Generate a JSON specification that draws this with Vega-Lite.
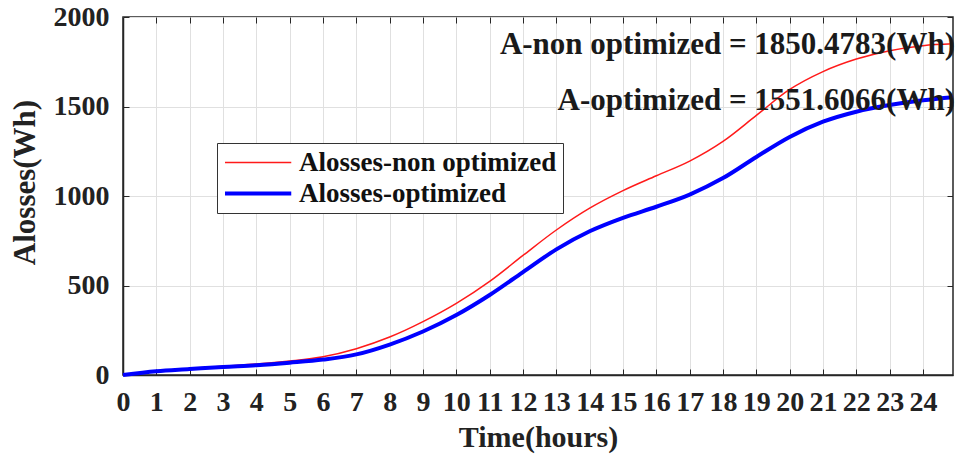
{
  "$schema": "https://vega.github.io/schema/vega-lite/v6.json",
  "width": 830,
  "height": 358,
  "autosize": {"type": "none"},
  "padding": {"left": 123, "top": 17, "right": 5, "bottom": 82},
  "background": "white",
  "config": {
    "view": {"stroke": "#262626", "strokeWidth": 1.5},
    "font": "Liberation Serif",
    "legend": {
      "orient": "none",
      "legendX": 94,
      "legendY": 126,
      "title": null,
      "symbolType": "M-1,0H4.3",
      "symbolSize": 625,
      "labelFont": "Liberation Serif",
      "labelFontSize": 27,
      "labelFontWeight": "bold",
      "labelColor": "#111111",
      "labelLimit": 0,
      "labelOffset": 47,
      "padding": 6,
      "rowPadding": 3,
      "strokeColor": "#333333",
      "fillColor": "white"
    }
  },
  "data": {
    "values": [
      {"t": 0, "v": 0, "series": "Alosses-non optimized"},
      {"t": 1, "v": 23, "series": "Alosses-non optimized"},
      {"t": 2, "v": 36, "series": "Alosses-non optimized"},
      {"t": 3, "v": 49, "series": "Alosses-non optimized"},
      {"t": 4, "v": 61, "series": "Alosses-non optimized"},
      {"t": 5, "v": 78, "series": "Alosses-non optimized"},
      {"t": 6, "v": 102, "series": "Alosses-non optimized"},
      {"t": 7, "v": 147, "series": "Alosses-non optimized"},
      {"t": 8, "v": 212, "series": "Alosses-non optimized"},
      {"t": 9, "v": 298, "series": "Alosses-non optimized"},
      {"t": 10, "v": 400, "series": "Alosses-non optimized"},
      {"t": 11, "v": 523, "series": "Alosses-non optimized"},
      {"t": 12, "v": 668, "series": "Alosses-non optimized"},
      {"t": 13, "v": 810, "series": "Alosses-non optimized"},
      {"t": 14, "v": 932, "series": "Alosses-non optimized"},
      {"t": 15, "v": 1030, "series": "Alosses-non optimized"},
      {"t": 16, "v": 1113, "series": "Alosses-non optimized"},
      {"t": 17, "v": 1195, "series": "Alosses-non optimized"},
      {"t": 18, "v": 1305, "series": "Alosses-non optimized"},
      {"t": 19, "v": 1450, "series": "Alosses-non optimized"},
      {"t": 20, "v": 1595, "series": "Alosses-non optimized"},
      {"t": 21, "v": 1695, "series": "Alosses-non optimized"},
      {"t": 22, "v": 1765, "series": "Alosses-non optimized"},
      {"t": 23, "v": 1812, "series": "Alosses-non optimized"},
      {"t": 24, "v": 1840, "series": "Alosses-non optimized"},
      {"t": 24.9, "v": 1850, "series": "Alosses-non optimized"},
      {"t": 0, "v": 0, "series": "Alosses-optimized"},
      {"t": 1, "v": 21, "series": "Alosses-optimized"},
      {"t": 2, "v": 33, "series": "Alosses-optimized"},
      {"t": 3, "v": 45, "series": "Alosses-optimized"},
      {"t": 4, "v": 55, "series": "Alosses-optimized"},
      {"t": 5, "v": 69, "series": "Alosses-optimized"},
      {"t": 6, "v": 86, "series": "Alosses-optimized"},
      {"t": 7, "v": 115, "series": "Alosses-optimized"},
      {"t": 8, "v": 170, "series": "Alosses-optimized"},
      {"t": 9, "v": 243, "series": "Alosses-optimized"},
      {"t": 10, "v": 335, "series": "Alosses-optimized"},
      {"t": 11, "v": 447, "series": "Alosses-optimized"},
      {"t": 12, "v": 575, "series": "Alosses-optimized"},
      {"t": 13, "v": 702, "series": "Alosses-optimized"},
      {"t": 14, "v": 803, "series": "Alosses-optimized"},
      {"t": 15, "v": 878, "series": "Alosses-optimized"},
      {"t": 16, "v": 940, "series": "Alosses-optimized"},
      {"t": 17, "v": 1008, "series": "Alosses-optimized"},
      {"t": 18, "v": 1100, "series": "Alosses-optimized"},
      {"t": 19, "v": 1218, "series": "Alosses-optimized"},
      {"t": 20, "v": 1330, "series": "Alosses-optimized"},
      {"t": 21, "v": 1415, "series": "Alosses-optimized"},
      {"t": 22, "v": 1471, "series": "Alosses-optimized"},
      {"t": 23, "v": 1508, "series": "Alosses-optimized"},
      {"t": 24, "v": 1535, "series": "Alosses-optimized"},
      {"t": 24.9, "v": 1552, "series": "Alosses-optimized"}
    ]
  },
  "resolve": {"axis": {"x": "independent", "y": "independent"}},
  "layer": [
    {
      "mark": {"type": "line", "interpolate": "monotone"},
      "encoding": {
        "x": {
          "field": "t", "type": "quantitative",
          "scale": {"domain": [0, 24.9], "nice": false, "zero": false},
          "axis": {
            "values": [0,1,2,3,4,5,6,7,8,9,10,11,12,13,14,15,16,17,18,19,20,21,22,23,24],
            "labelFont": "Liberation Serif", "labelFontSize": 28, "labelFontWeight": "bold",
            "labelColor": "#222222", "labelOverlap": false, "labelFlush": false, "labelAngle": 0,
            "labelPadding": 19,
            "tickSize": -6, "tickColor": "#262626", "tickWidth": 1,
            "domain": true, "domainColor": "#262626", "domainWidth": 1.5,
            "grid": true, "gridColor": "#e0e0e0", "gridWidth": 1,
            "title": "Time(hours)", "titleFont": "Liberation Serif", "titleFontSize": 30,
            "titleFontWeight": "bold", "titleColor": "#222222",
            "titleBaseline": "middle", "titleY": 62
          }
        },
        "y": {
          "field": "v", "type": "quantitative",
          "scale": {"domain": [0, 2000], "nice": false},
          "axis": {
            "values": [0, 500, 1000, 1500, 2000],
            "format": "d",
            "labelFont": "Liberation Serif", "labelFontSize": 28, "labelFontWeight": "bold",
            "labelColor": "#222222", "labelPadding": 20,
            "tickSize": -6, "tickColor": "#262626",
            "domain": true, "domainColor": "#262626", "domainWidth": 1.5,
            "grid": true, "gridColor": "#e0e0e0", "gridWidth": 1,
            "title": "Alosses(Wh)", "titleFont": "Liberation Serif", "titleFontSize": 31,
            "titleFontWeight": "bold", "titleColor": "#222222",
            "titleX": -98, "titleY": 165, "titleBaseline": "middle", "titleAlign": "center", "titleAngle": 270
          }
        },
        "color": {
          "field": "series", "type": "nominal",
          "scale": {"domain": ["Alosses-non optimized", "Alosses-optimized"], "range": ["#ff1a1a", "#0000ff"]},
          "legend": {"title": null}
        },
        "strokeWidth": {
          "field": "series", "type": "nominal",
          "scale": {"domain": ["Alosses-non optimized", "Alosses-optimized"], "range": [1.5, 4]},
          "legend": {"title": null}
        }
      }
    },
    {
      "data": {
        "values": [
          {"t": 24.9, "v": 1793, "label": "A-non optimized = 1850.4783(Wh)"},
          {"t": 24.9, "v": 1480, "label": "A-optimized = 1551.6066(Wh)"}
        ]
      },
      "mark": {"type": "text", "align": "right", "baseline": "alphabetic", "dx": 2,
               "font": "Liberation Serif", "fontSize": 31, "fontWeight": "bold", "color": "#1a1a1a"},
      "encoding": {
        "x": {"field": "t", "type": "quantitative",
              "axis": {"orient": "top", "values": [0,1,2,3,4,5,6,7,8,9,10,11,12,13,14,15,16,17,18,19,20,21,22,23,24],
                       "labels": false, "title": null, "grid": false, "domain": false,
                       "tickSize": -6, "tickColor": "#262626"}},
        "y": {"field": "v", "type": "quantitative",
              "axis": {"orient": "right", "values": [0, 500, 1000, 1500, 2000],
                       "labels": false, "title": null, "grid": false, "domain": false,
                       "tickSize": -6, "tickColor": "#262626"}},
        "text": {"field": "label", "type": "nominal"}
      }
    }
  ]
}
